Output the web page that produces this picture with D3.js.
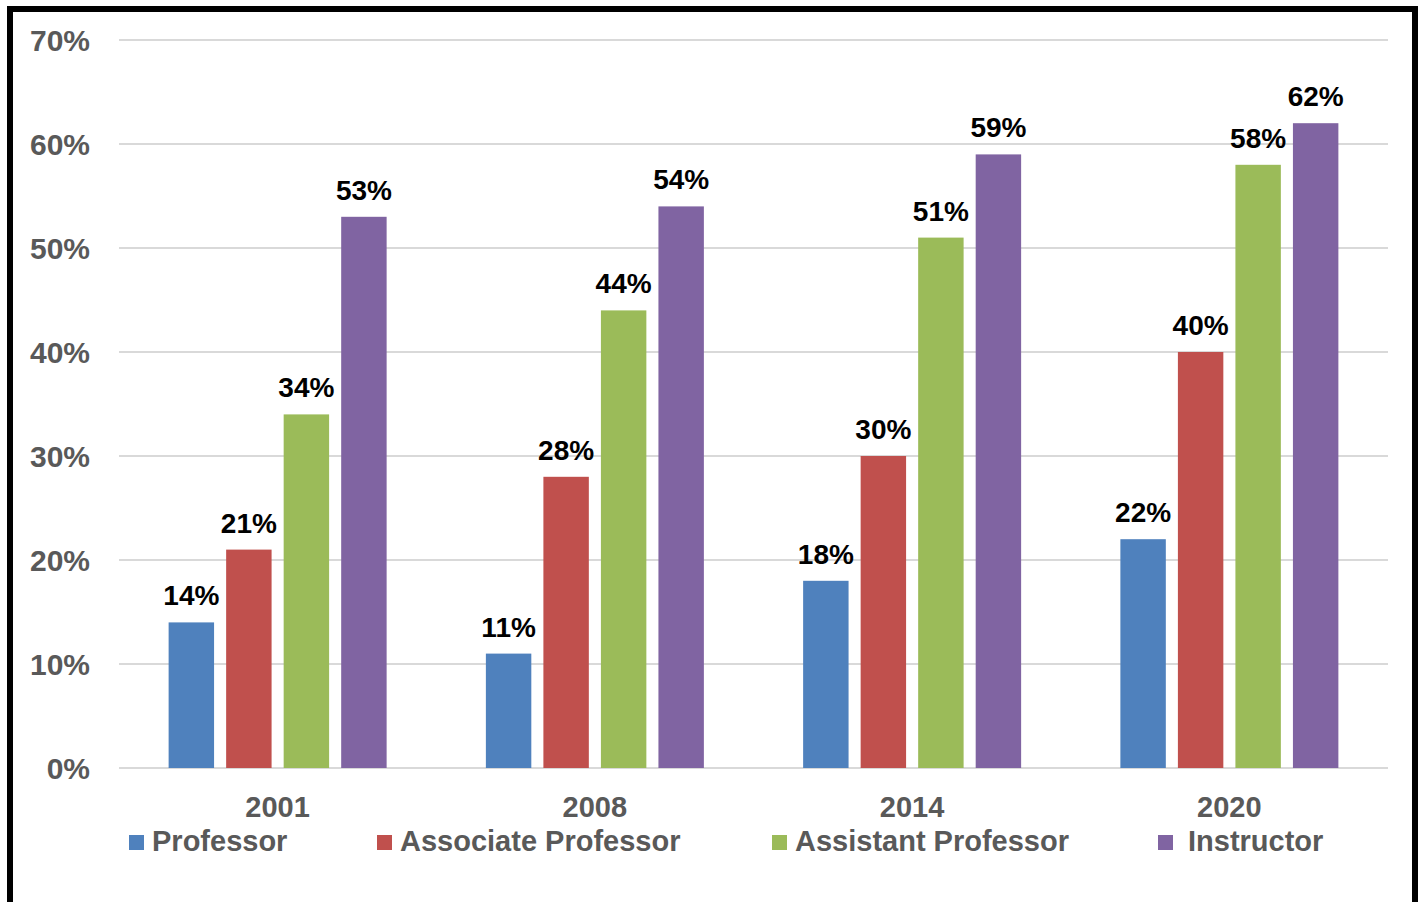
<html>
<meta charset="utf-8">
<head>
  <title>Share by rank</title>
</head>
<style>
body { margin: 0; background: #fff; }
text { font-family: "Liberation Sans", Arial, sans-serif; font-weight: bold; }
</style>
<body>
<svg id="chart" width="1418" height="902"></svg>
<script src="https://d3js.org/d3.v7.min.js"></script>
<script>
var years = ['2001', '2008', '2014', '2020']
var ranks = ['Professor', 'Associate Professor', 'Assistant Professor', 'Instructor']
var professor = [14, 11, 18, 22]
var associate = [21, 28, 30, 40]
var assistant = [34, 44, 51, 58]
var instructor = [53, 54, 59, 62]
var yTicks = [0, 10, 20, 30, 40, 50, 60, 70]
var colors = ['#4F81BD', '#C0504D', '#9BBB59', '#8064A2']

var series = [professor, associate, assistant, instructor]
var svg = d3.select('#chart')

// outer black frame (bottom edge runs off the picture)
svg.append('rect')
  .attr('x', 10).attr('y', 9).attr('width', 1405).attr('height', 910)
  .attr('fill', 'none').attr('stroke', '#000').attr('stroke-width', 6)

var plotLeft = 119, plotRight = 1388, plotTop = 40, plotBottom = 768

var y = d3.scaleLinear().domain([0, 70]).range([plotBottom, plotTop])
var x0 = d3.scaleBand().domain(years).range([plotLeft, plotRight])
var x1 = d3.scaleBand().domain(ranks).range([0, 218]).paddingInner(0.21)
var groupOffset = (x0.bandwidth() - 218) / 2

// gridlines
svg.append('g').selectAll('line')
  .data(yTicks)
  .enter().append('line')
  .attr('x1', plotLeft).attr('x2', plotRight)
  .attr('y1', function(d) { return y(d) })
  .attr('y2', function(d) { return y(d) })
  .attr('stroke', '#D9D9D9').attr('stroke-width', 2)

// y tick labels
svg.append('g').selectAll('text')
  .data(yTicks)
  .enter().append('text')
  .attr('x', 90)
  .attr('y', function(d) { return y(d) + 11 })
  .attr('text-anchor', 'end')
  .attr('font-size', 30)
  .attr('fill', '#595959')
  .text(function(d) { return d + '%' })

// bars
var groups = svg.append('g').selectAll('g')
  .data(years)
  .enter().append('g')
  .attr('transform', function(d) { return 'translate(' + (x0(d) + groupOffset) + ',0)' })

groups.selectAll('rect')
  .data(function(d, i) {
    return ranks.map(function(r, j) { return {rank: r, value: series[j][i], color: colors[j]} })
  })
  .enter().append('rect')
  .attr('x', function(d) { return x1(d.rank) })
  .attr('width', x1.bandwidth())
  .attr('y', function(d) { return y(d.value) })
  .attr('height', function(d) { return plotBottom - y(d.value) })
  .attr('fill', function(d) { return d.color })

groups.selectAll('text')
  .data(function(d, i) {
    return ranks.map(function(r, j) { return {rank: r, value: series[j][i]} })
  })
  .enter().append('text')
  .attr('x', function(d) { return x1(d.rank) + x1.bandwidth() / 2 })
  .attr('y', function(d) { return y(d.value) - 17 })
  .attr('text-anchor', 'middle')
  .attr('font-size', 28)
  .attr('fill', '#000')
  .text(function(d) { return d.value + '%' })

// category labels
svg.append('g').selectAll('text')
  .data(years)
  .enter().append('text')
  .attr('x', function(d) { return x0(d) + x0.bandwidth() / 2 })
  .attr('y', 817)
  .attr('text-anchor', 'middle')
  .attr('font-size', 29)
  .attr('fill', '#595959')
  .text(function(d) { return d })

// legend
var legendX = [129, 377, 772, 1158]
var legendGap = [8, 8, 8, 15]
var leg = svg.append('g').selectAll('g')
  .data(ranks)
  .enter().append('g')
  .attr('transform', function(d, i) { return 'translate(' + legendX[i] + ',835)' })

leg.append('rect')
  .attr('width', 15).attr('height', 15)
  .attr('fill', function(d, i) { return colors[i] })

leg.append('text')
  .attr('x', function(d, i) { return 15 + legendGap[i] })
  .attr('y', 16)
  .attr('font-size', 29)
  .attr('fill', '#595959')
  .text(function(d) { return d })
</script>
</body>
</html>
